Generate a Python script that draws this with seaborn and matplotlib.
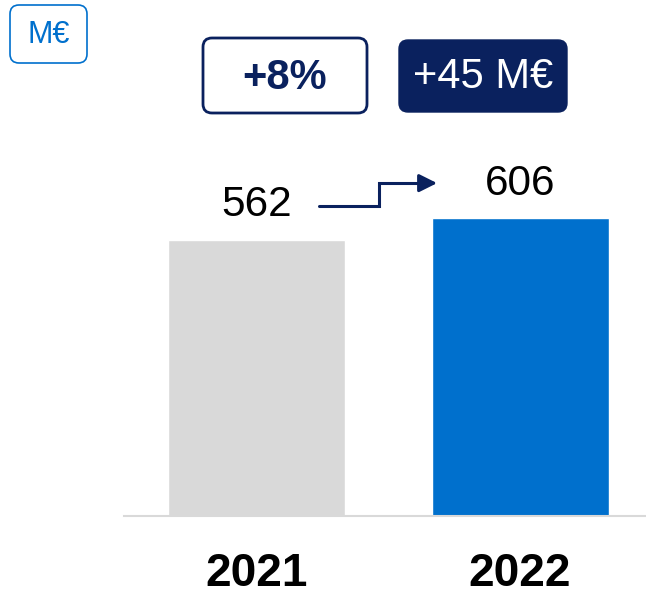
import matplotlib
matplotlib.use("Agg")
import matplotlib.pyplot as plt
from matplotlib.patches import FancyBboxPatch
import seaborn as sns
import pandas as pd

years = ["2021", "2022"]
values = [562, 606]
bar_colors = ["#D9D9D9", "#0070CD"]
growth_pct = "+8%"
growth_abs = "+45 M€"
unit = "M€"

NAVY = "#0A215E"
BLUE = "#0070CD"

sns.set_theme(style="white")
plt.rcParams["font.family"] = ["Liberation Sans", "DejaVu Sans"]

W, H = 646, 596
fig = plt.figure(figsize=(W / 100, H / 100), dpi=100)
ax = fig.add_axes([124 / W, 80 / H, 1 - 124 / W, 1 - 80 / H])

df = pd.DataFrame({"year": years, "value": values})
sns.barplot(data=df, x="year", y="value", hue="year", palette=bar_colors,
            width=0.672, legend=False, ax=ax, saturation=1)
ax.set_xlim(-0.503, 1.478)
ax.set_ylim(0, 1051)
ax.set_xlabel("")
ax.set_ylabel("")
ax.set_yticks([])
for s in ["top", "right", "left"]:
    ax.spines[s].set_visible(False)
ax.spines["bottom"].set_color("#D9D9D9")
ax.spines["bottom"].set_linewidth(1.5)
ax.tick_params(axis="x", length=0, pad=26)
for lab in ax.get_xticklabels():
    lab.set_fontsize(33)
    lab.set_fontweight("bold")
    lab.set_color("black")

# value labels
for i, v in enumerate(values):
    ax.text(i, v + 30, str(v), ha="center", va="bottom", fontsize=30.5, color="black")

# step arrow from 2021 label to 2022 label
y0 = values[0] + 69
y1 = values[1] + 72
ax.plot([0.237, 0.465, 0.465, 0.63], [y0, y0, y1, y1], color=NAVY, lw=2.2,
        solid_joinstyle="miter", clip_on=False)
ax.annotate("", xy=(0.685, y1), xytext=(0.62, y1),
            arrowprops=dict(arrowstyle="-|>,head_length=0.9,head_width=0.45",
                            color=NAVY, lw=2.2, shrinkA=0, shrinkB=0),
            annotation_clip=False)

# overlay in pixel coordinates for the callout boxes
ov = fig.add_axes([0, 0, 1, 1], facecolor="none")
ov.set_xlim(0, W)
ov.set_ylim(H, 0)
ov.axis("off")

ov.add_patch(FancyBboxPatch((10, 5), 77, 58, boxstyle="round,pad=0,rounding_size=9",
                            facecolor="white", edgecolor=BLUE, lw=1.2))
ov.text(48.5, 35, unit, ha="center", va="center", fontsize=22, color=BLUE)

ov.add_patch(FancyBboxPatch((203, 38), 164, 75, boxstyle="round,pad=0,rounding_size=9",
                            facecolor="white", edgecolor=NAVY, lw=2))
ov.text(285, 78, growth_pct, ha="center", va="center", fontsize=30,
        fontweight="bold", color=NAVY)

ov.add_patch(FancyBboxPatch((399, 40), 168, 72, boxstyle="round,pad=0,rounding_size=9",
                            facecolor=NAVY, edgecolor=NAVY, lw=1))
ov.text(483, 77, growth_abs, ha="center", va="center", fontsize=30, color="white")

fig.savefig("out.png", dpi=100)
